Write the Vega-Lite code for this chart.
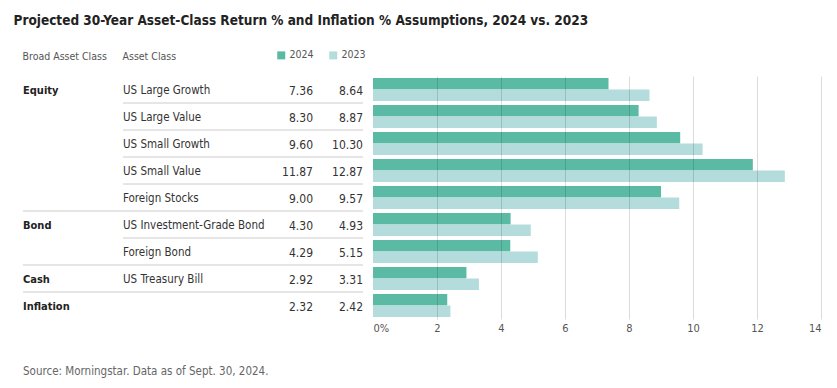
{
  "$schema": "https://vega.github.io/schema/vega-lite/v6.json",
  "padding": {"left": 13, "top": 13, "right": 5, "bottom": 5},
  "background": "white",
  "title": {
    "text": "Projected 30-Year Asset-Class Return % and Inflation % Assumptions, 2024 vs. 2023",
    "anchor": "start", "frame": "bounds", "dx": -9, "font": "'DejaVu Sans Condensed', Roboto, sans-serif", "fontSize": 13.5,
    "fontWeight": "bold", "color": "#222222", "offset": 23
  },
  "config": {
    "view": {"stroke": null},
    "font": "'DejaVu Sans Condensed', Roboto, sans-serif"
  },
  "datasets": {
    "rows": [
      {"order": 1, "group": "Equity", "asset": "US Large Growth", "2024": 7.36, "2023": 8.64},
      {"order": 2, "group": "Equity", "asset": "US Large Value", "2024": 8.30, "2023": 8.87},
      {"order": 3, "group": "Equity", "asset": "US Small Growth", "2024": 9.60, "2023": 10.30},
      {"order": 4, "group": "Equity", "asset": "US Small Value", "2024": 11.87, "2023": 12.87},
      {"order": 5, "group": "Equity", "asset": "Foreign Stocks", "2024": 9.00, "2023": 9.57},
      {"order": 6, "group": "Bond", "asset": "US Investment-Grade Bond", "2024": 4.30, "2023": 4.93},
      {"order": 7, "group": "Bond", "asset": "Foreign Bond", "2024": 4.29, "2023": 5.15},
      {"order": 8, "group": "Cash", "asset": "US Treasury Bill", "2024": 2.92, "2023": 3.31},
      {"order": 9, "group": "Inflation", "asset": "", "2024": 2.32, "2023": 2.42}
    ]
  },
  "spacing": 32,
  "vconcat": [
    {
      "bounds": "flush",
      "spacing": 0,
      "resolve": {"scale": {"color": "independent"}, "legend": {"color": "independent"}},
      "hconcat": [
        {
          "width": 100, "height": 243,
          "title": {"text": "Broad Asset Class", "anchor": "start", "fontSize": 10.5, "fontWeight": "normal", "color": "#555555", "offset": 14},
          "data": {"name": "rows"},
          "transform": [
            {"window": [{"op": "lead", "field": "group", "as": "nextGroup"}], "sort": [{"field": "order"}]},
            {"window": [{"op": "row_number", "as": "rn"}], "groupby": ["group"], "sort": [{"field": "order"}]}
          ],
          "layer": [
            {
              "transform": [{"filter": "datum.rn == 1"}],
              "mark": {"type": "text", "align": "left", "dy": 1.5, "fontSize": 11, "fontWeight": "bold", "color": "#222222"},
              "encoding": {
                "x": {"value": 0},
                "y": {"field": "order", "type": "ordinal", "axis": null, "scale": {"type": "band", "domain": [1,2,3,4,5,6,7,8,9], "paddingInner": 0, "paddingOuter": 0}},
                "text": {"field": "group"}
              }
            },
            {
              "transform": [{"filter": "datum.nextGroup != null && datum.nextGroup != datum.group"}],
              "mark": {"type": "rule", "color": "#cccccc", "strokeWidth": 1},
              "encoding": {
                "y": {"field": "order", "type": "ordinal", "bandPosition": 1, "axis": null, "scale": {"type": "band", "domain": [1,2,3,4,5,6,7,8,9], "paddingInner": 0, "paddingOuter": 0}}
              }
            }
          ]
        },
        {
          "width": 150, "height": 243,
          "title": {"text": "Asset Class", "anchor": "start", "fontSize": 10.5, "fontWeight": "normal", "color": "#555555", "offset": 14},
          "data": {"name": "rows"},
          "transform": [
            {"window": [{"op": "lead", "field": "order", "as": "nextOrder"}], "sort": [{"field": "order"}]}
          ],
          "layer": [
            {
              "mark": {"type": "text", "align": "left", "dy": 1.5, "fontSize": 11.5, "color": "#333333"},
              "encoding": {
                "x": {"value": 0},
                "y": {"field": "order", "type": "ordinal", "axis": null, "scale": {"type": "band", "domain": [1,2,3,4,5,6,7,8,9], "paddingInner": 0, "paddingOuter": 0}},
                "text": {"field": "asset"}
              }
            },
            {
              "transform": [{"filter": "datum.nextOrder != null"}],
              "mark": {"type": "rule", "color": "#cccccc", "strokeWidth": 1},
              "encoding": {
                "y": {"field": "order", "type": "ordinal", "bandPosition": 1, "axis": null, "scale": {"type": "band", "domain": [1,2,3,4,5,6,7,8,9], "paddingInner": 0, "paddingOuter": 0}}
              }
            }
          ]
        },
        {
          "width": 40, "height": 243,
          "data": {"name": "rows"},
          "transform": [
            {"window": [{"op": "lead", "field": "order", "as": "nextOrder"}], "sort": [{"field": "order"}]}
          ],
          "layer": [
            {
              "mark": {"type": "text", "align": "right", "dy": 1.5, "fontSize": 12, "color": "#333333"},
              "encoding": {
                "x": {"value": "width"},
                "y": {"field": "order", "type": "ordinal", "axis": null, "scale": {"type": "band", "domain": [1,2,3,4,5,6,7,8,9], "paddingInner": 0, "paddingOuter": 0}},
                "text": {"field": "2024", "type": "quantitative", "format": ".2f"}
              }
            },
            {
              "transform": [{"filter": "datum.nextOrder != null"}],
              "mark": {"type": "rule", "color": "#cccccc", "strokeWidth": 1},
              "encoding": {
                "y": {"field": "order", "type": "ordinal", "bandPosition": 1, "axis": null, "scale": {"type": "band", "domain": [1,2,3,4,5,6,7,8,9], "paddingInner": 0, "paddingOuter": 0}}
              }
            }
          ]
        },
        {
          "width": 50, "height": 243,
          "data": {"name": "rows"},
          "transform": [
            {"window": [{"op": "lead", "field": "order", "as": "nextOrder"}], "sort": [{"field": "order"}]}
          ],
          "layer": [
            {
              "mark": {"type": "text", "align": "right", "dy": 1.5, "fontSize": 12, "color": "#333333"},
              "encoding": {
                "x": {"value": "width"},
                "y": {"field": "order", "type": "ordinal", "axis": null, "scale": {"type": "band", "domain": [1,2,3,4,5,6,7,8,9], "paddingInner": 0, "paddingOuter": 0}},
                "text": {"field": "2023", "type": "quantitative", "format": ".2f"}
              }
            },
            {
              "transform": [{"filter": "datum.nextOrder != null"}],
              "mark": {"type": "rule", "color": "#cccccc", "strokeWidth": 1},
              "encoding": {
                "y": {"field": "order", "type": "ordinal", "bandPosition": 1, "axis": null, "scale": {"type": "band", "domain": [1,2,3,4,5,6,7,8,9], "paddingInner": 0, "paddingOuter": 0}}
              }
            }
          ]
        },
        {
          "width": 458, "height": 243,
          "data": {"name": "rows"},
          "transform": [{"fold": ["2024", "2023"], "as": ["year", "value"]}],
          "mark": {"type": "bar"},
          "encoding": {
            "y": {"field": "order", "type": "ordinal", "axis": null, "scale": {"domain": [1,2,3,4,5,6,7,8,9], "paddingInner": 0.15, "paddingOuter": 0.075}},
            "yOffset": {"field": "year", "type": "nominal", "scale": {"domain": ["2024", "2023"]}},
            "x": {
              "field": "value", "type": "quantitative",
              "scale": {"domain": [0, 14], "nice": false, "range": [10, 458]},
              "axis": {
                "title": null, "values": [0, 2, 4, 6, 8, 10, 12, 14],
                "labelExpr": "datum.value == 0 ? '0%' : datum.label",
                "domain": false, "ticks": false, "labelPadding": 3,
                "labelFontSize": 11, "labelColor": "#555555",
                "grid": true, "gridColor": "#000000",
                "gridOpacity": {"condition": {"test": "datum.value === 0", "value": 0}, "value": 0.14},
                "zindex": 1
              }
            },
            "color": {
              "field": "year", "type": "nominal",
              "scale": {"domain": ["2024", "2023"], "range": ["#5bbaa4", "#b4dcdc"]},
              "legend": {
                "orient": "none", "legendX": -87, "legendY": -26, "direction": "horizontal",
                "title": null, "symbolType": "square", "symbolSize": 64, "symbolStrokeWidth": 0,
                "labelFontSize": 10.5, "labelColor": "#555555",
                "columnPadding": 14, "labelOffset": 3
              }
            }
          }
        }
      ]
    },
    {
      "width": 800, "height": 14,
      "data": {"values": [{"note": "Source: Morningstar. Data as of Sept. 30, 2024."}]},
      "mark": {"type": "text", "align": "left", "fontSize": 11.5, "color": "#666666"},
      "encoding": {"x": {"value": 0}, "text": {"field": "note"}}
    }
  ]
}
